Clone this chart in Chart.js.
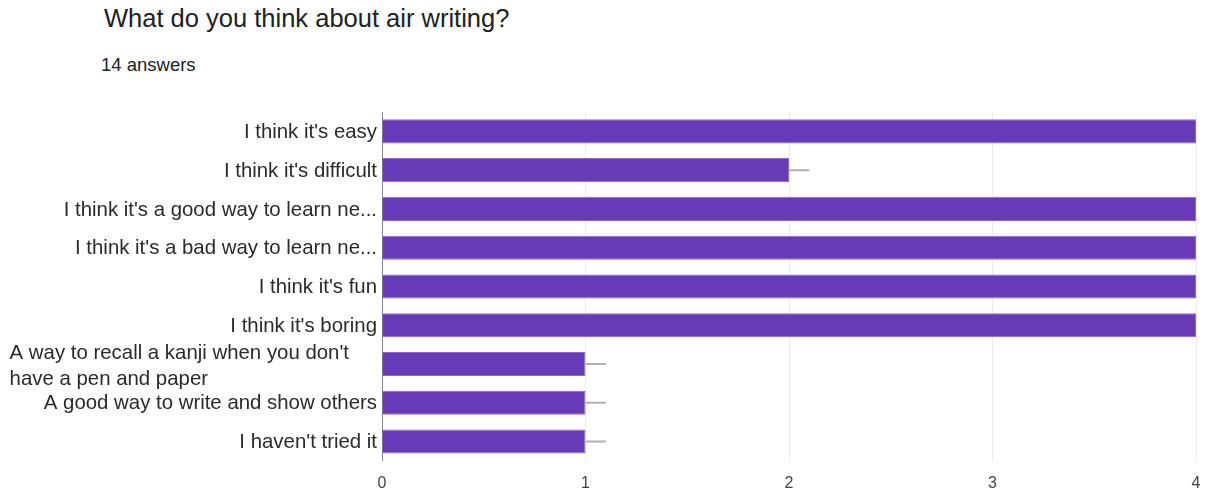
<!DOCTYPE html>
<html>
<head>
<meta charset="utf-8">
<script src="https://cdn.jsdelivr.net/npm/chart.js@4/dist/chart.umd.min.js"></script>
<style>
  html, body { margin: 0; padding: 0; background: #fff; }
  body { width: 1209px; height: 493px; position: relative; overflow: hidden; font-family: "Liberation Sans", Arial, sans-serif; }
  #title { position: absolute; left: 104px; top: 3px; font-size: 25.5px; color: #202124; line-height: 1.2; }
  #sub { position: absolute; left: 101px; top: 54px; font-size: 18.5px; color: #202124; line-height: 1.2; }
  #wrap { position: absolute; left: 0; top: 0; width: 1209px; height: 493px; }
  canvas { display: block; }
</style>
</head>
<body>
<div id="title">What do you think about air writing?</div>
<div id="sub">14 answers</div>
<div id="wrap"><canvas id="chart" width="1209" height="493"></canvas></div>
<script>
// === DATA ===
const categories = [
  "I think it's easy",
  "I think it's difficult",
  "I think it's a good way to learn ne...",
  "I think it's a bad way to learn ne...",
  "I think it's fun",
  "I think it's boring",
  ["A way to recall a kanji when you don't", "have a pen and paper"],
  "A good way to write and show others",
  "I haven't tried it"
];
const counts = [4, 2, 4, 4, 4, 4, 1, 1, 1];
const errorUp = [0.1, 0.1, 0.1, 0.1, 0.1, 0.1, 0.1, 0.1, 0.1];
const xTicks = [0, 1, 2, 3, 4];

// whiskers to the right of each bar
const whiskers = {
  id: 'whiskers',
  afterDatasetsDraw(chart) {
    const { ctx, chartArea, scales } = chart;
    ctx.save();
    ctx.beginPath();
    ctx.rect(chartArea.left, chartArea.top, chartArea.right - chartArea.left, chartArea.bottom - chartArea.top);
    ctx.clip();
    ctx.strokeStyle = '#b0b0b0';
    ctx.lineWidth = 2;
    counts.forEach((v, i) => {
      const y = scales.y.getPixelForValue(i);
      const x0 = scales.x.getPixelForValue(v);
      const x1 = scales.x.getPixelForValue(v + errorUp[i]);
      ctx.beginPath();
      ctx.moveTo(x0, y);
      ctx.lineTo(x1, y);
      ctx.stroke();
    });
    ctx.restore();
  }
};

// category labels (multi-line one is left aligned like the original)
const catLabels = {
  id: 'catLabels',
  afterDraw(chart) {
    const { ctx, chartArea, scales } = chart;
    ctx.save();
    ctx.font = '20.4px "Liberation Sans", Arial, sans-serif';
    ctx.fillStyle = '#2a2a2a';
    ctx.textBaseline = 'middle';
    const right = chartArea.left - 5;
    categories.forEach((lab, i) => {
      const y = scales.y.getPixelForValue(i);
      if (Array.isArray(lab)) {
        const lh = 26;
        const w = Math.max(...lab.map(s => ctx.measureText(s).width));
        const x = right - w - 28;
        ctx.textAlign = 'left';
        lab.forEach((s, k) => {
          ctx.fillText(s, x, y + (k - (lab.length - 1) / 2) * lh + 2);
        });
      } else {
        ctx.textAlign = 'right';
        ctx.fillText(lab, right, y + 1);
      }
    });
    ctx.restore();
  }
};

new Chart(document.getElementById('chart'), {
  type: 'bar',
  data: {
    labels: categories,
    datasets: [{
      data: counts,
      backgroundColor: '#673ab7',
      borderColor: '#8c67cf',
      borderWidth: 1,
      barPercentage: 0.62,
      categoryPercentage: 1
    }]
  },
  options: {
    indexAxis: 'y',
    responsive: false,
    animation: false,
    layout: { padding: { left: 374, right: 13, top: 112, bottom: -13 } },
    plugins: { legend: { display: false }, tooltip: { enabled: false } },
    scales: {
      x: {
        min: xTicks[0],
        max: xTicks[xTicks.length - 1],
        afterBuildTicks(axis) { axis.ticks = xTicks.map(v => ({ value: v })); },
        afterFit(axis) { axis.paddingRight = 0; },
        grid: { color: '#ececec', drawTicks: false },
        border: { display: false },
        ticks: { color: '#444', padding: 13, font: { size: 16, family: '"Liberation Sans", Arial, sans-serif' } }
      },
      y: {
        grid: { display: false },
        border: { display: true, color: '#888', width: 1 },
        ticks: { display: false }
      }
    }
  },
  plugins: [whiskers, catLabels]
});
</script>
</body>
</html>
